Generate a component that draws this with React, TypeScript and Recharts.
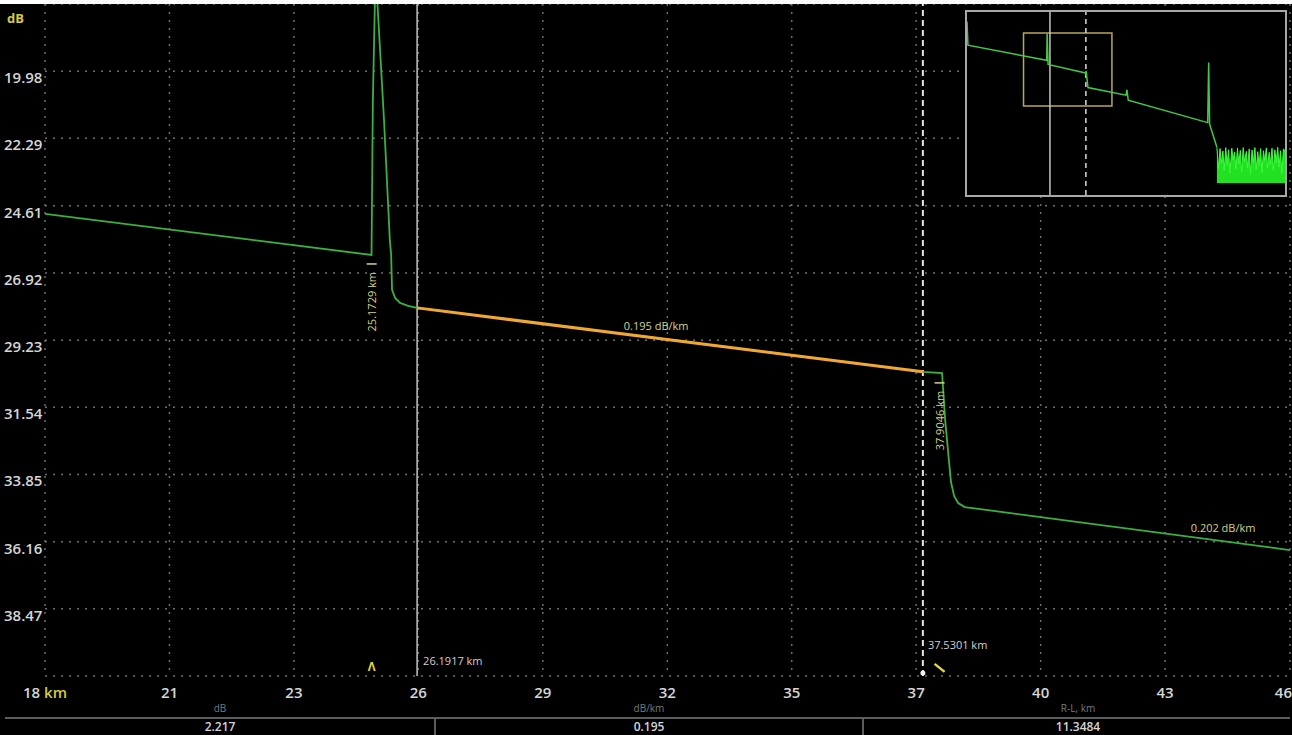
import {
  Area,
  CartesianGrid,
  ComposedChart,
  Line,
  ReferenceArea,
  ReferenceDot,
  ReferenceLine,
  XAxis,
  YAxis,
} from "recharts";

// main trace (km, dB)
const traceKm = [
  17.85, 25.17, 25.2, 25.26, 25.45, 25.58, 25.61, 25.63, 25.7, 25.81, 25.99,
  26.19, 37.53, 37.96, 38.03, 38.09, 38.16, 38.23, 38.32, 38.47, 45.76,
];
const traceDb = [
  24.89, 26.3, 21.0, 16.5, 21.66, 25.78, 26.3, 27.5, 27.78, 27.95, 28.05,
  28.12, 30.32, 30.36, 31.98, 32.98, 34.11, 34.59, 34.83, 34.97, 36.45,
];

// highlighted section between the two cursors
const sectionKm = [26.1917, 37.5301];
const sectionDb = [28.12, 30.32];

// overview trace in the inset
const insetKm = [
  0, 0.3, 25.17, 25.3, 25.6, 37.5, 37.6, 38.2, 50.2, 50.5, 50.9, 76.0, 76.3,
  76.6, 78.9,
];
const insetDb = [
  14.0, 21.5, 26.3, 17.7, 27.6, 30.3, 29.6, 34.9, 37.3, 35.6, 38.9, 46.0, 27.0,
  46.5, 53.8,
];
const noiseKm = [
  78.9, 79.4, 79.9, 80.3, 80.8, 81.2, 81.7, 82.1, 82.6, 83.0, 83.6, 84.0, 84.5,
  84.9, 85.4, 85.8, 86.3, 86.7, 87.2, 87.6, 88.2, 88.6, 89.1, 89.5, 90.0, 90.4,
  90.9, 91.3, 91.8, 92.2, 92.7, 93.1, 93.6, 94.0, 94.5, 94.9, 95.4, 95.8, 96.3,
  96.7, 97.2, 97.6, 98.1, 98.5, 99.0, 99.4, 99.9, 100.4,
];
const noiseDb = [
  53.8, 60.5, 54.2, 58.9, 55.0, 61.2, 53.9, 59.4, 54.6, 62.0, 54.1, 57.8, 55.3,
  60.7, 54.0, 59.1, 54.8, 61.5, 53.9, 58.3, 55.1, 60.2, 54.3, 62.3, 54.7, 58.6,
  53.9, 60.9, 55.2, 59.7, 54.2, 61.8, 54.9, 58.1, 54.0, 60.4, 55.4, 59.2, 54.1,
  61.1, 54.6, 58.7, 53.8, 60.0, 54.9, 62.1, 54.3, 55.0,
];

const xTickValues = [
  17.85, 20.64, 23.43, 26.22, 29.01, 31.8, 34.59, 37.38, 40.17, 42.96, 45.76,
];
const xTickLabels = ["18", "21", "23", "26", "29", "32", "35", "37", "40", "43", "46"];
const yTickValues = [
  17.67, 19.98, 22.29, 24.61, 26.92, 29.23, 31.54, 33.85, 36.16, 38.47, 40.78,
];
const yTickLabels = [
  "", "19.98", "22.29", "24.61", "26.92", "29.23", "31.54", "33.85", "36.16", "38.47", "",
];

// bottom readout
const readoutHeads = ["dB", "dB/km", "R-L, km"];
const readoutValues = ["2.217", "0.195", "11.3484"];

const traceData = traceKm.map((km, i) => ({ km, db: traceDb[i] }));
const sectionData = sectionKm.map((km, i) => ({ km, db: sectionDb[i] }));
const insetData = insetKm.map((km, i) => ({ km, db: insetDb[i] }));
const noiseData = noiseKm.map((km, i) => ({ km, db: noiseDb[i] }));

const FONT = "'Open Sans', 'DejaVu Sans', sans-serif";
const GREEN = "#3cb043";
const LABEL = "#d2d48a";

const XTick = ({ x, y, payload }: any) => {
  const i = xTickValues.indexOf(payload.value);
  const last = i === xTickValues.length - 1;
  return (
    <text
      x={last ? x + 2 : x}
      y={y + 16}
      textAnchor={last ? "end" : "middle"}
      dominantBaseline="central"
      fill="#d6d6d6"
      fontSize={15}
      fontWeight={600}
      fontFamily={FONT}
    >
      {xTickLabels[i]}
      {i === 0 ? <tspan fill="#d8cc3a"> km</tspan> : null}
    </text>
  );
};

const YTick = ({ y, payload }: any) => {
  const label = yTickLabels[yTickValues.indexOf(payload.value)];
  if (!label) return null;
  return (
    <text
      x={4}
      y={y + 6}
      dominantBaseline="central"
      fill="#d6d6d6"
      fontSize={15}
      fontWeight={600}
      fontFamily={FONT}
    >
      {label}
    </text>
  );
};

const eventMark = (text: string) => (p: any) => (
  <g>
    <line x1={p.cx - 5} y1={p.cy} x2={p.cx + 5} y2={p.cy} stroke={LABEL} strokeWidth={1.5} />
    <text
      x={p.cx + 4}
      y={p.cy + 8}
      transform={`rotate(-90 ${p.cx + 4} ${p.cy + 8})`}
      textAnchor="end"
      fill={LABEL}
      fontSize={11}
      fontFamily={FONT}
    >
      {text}
    </text>
  </g>
);

const textMark = (text: string, color: string, anchor: "start" | "middle", dx: number) => (p: any) => (
  <text
    x={p.cx + dx}
    y={p.cy}
    textAnchor={anchor}
    dominantBaseline="central"
    fill={color}
    fontSize={11}
    fontFamily={FONT}
  >
    {text}
  </text>
);

export default function App() {
  return (
    <div style={{ width: 1292, height: 735, background: "#fff", position: "relative", overflow: "hidden" }}>
      <style>{"body{margin:0}"}</style>
      <div style={{ position: "absolute", left: 0, top: 4, width: 1292, height: 731, background: "#000" }}>
        <ComposedChart width={1292} height={731} margin={{ top: 0, right: 2, bottom: 0, left: 0 }}>
          <CartesianGrid stroke="#6e6e6e" strokeWidth={1.5} strokeDasharray="2 6" />
          <XAxis
            dataKey="km"
            type="number"
            domain={[17.85, 45.76]}
            ticks={xTickValues}
            interval={0}
            height={59}
            tickSize={0}
            tickMargin={0}
            axisLine={false}
            tickLine={false}
            allowDataOverflow
            tick={<XTick />}
          />
          <YAxis
            type="number"
            reversed
            domain={[17.67, 40.78]}
            ticks={yTickValues}
            interval={0}
            width={45}
            axisLine={false}
            tickLine={false}
            allowDataOverflow
            tick={<YTick />}
          />
          <ReferenceLine x={26.1917} stroke="#c4c4c4" strokeWidth={1.5} />
          <ReferenceLine x={37.5301} stroke="#e6e6e6" strokeWidth={2} strokeDasharray="6 4" />
          <Line
            data={traceData}
            dataKey="db"
            type="linear"
            stroke={GREEN}
            strokeWidth={1.8}
            dot={false}
            activeDot={false}
            isAnimationActive={false}
          />
          <Line
            data={sectionData}
            dataKey="db"
            type="linear"
            stroke="#f0a830"
            strokeWidth={3}
            dot={false}
            activeDot={false}
            isAnimationActive={false}
          />
          <ReferenceDot x={25.1729} y={26.61} shape={eventMark("25.1729 km")} />
          <ReferenceDot x={37.9046} y={30.7} shape={eventMark("37.9046 km")} />
          <ReferenceDot x={31.55} y={28.71} shape={textMark("0.195 dB/km", LABEL, "middle", 0)} />
          <ReferenceDot x={44.26} y={35.66} shape={textMark("0.202 dB/km", LABEL, "middle", 0)} />
          <ReferenceDot x={26.1917} y={40.23} shape={textMark("26.1917 km", "#d0d0d0", "start", 6)} />
          <ReferenceDot x={37.5301} y={39.71} shape={textMark("37.5301 km", "#d0d0d0", "start", 5)} />
          <ReferenceDot
            x={25.1729}
            y={40.47}
            shape={(p: any) => (
              <text
                x={p.cx}
                y={p.cy}
                textAnchor="middle"
                dominantBaseline="central"
                fill="#e8d63a"
                fontSize={12}
                fontWeight={700}
                fontFamily={FONT}
              >
                Λ
              </text>
            )}
          />
          <ReferenceDot
            x={37.9046}
            y={40.5}
            shape={(p: any) => (
              <line
                x1={p.cx - 5}
                y1={p.cy - 4}
                x2={p.cx + 5}
                y2={p.cy + 4}
                stroke="#e8d63a"
                strokeWidth={2.5}
              />
            )}
          />
          <ReferenceDot x={37.5301} y={40.68} r={2.5} fill="#f0f0f0" stroke="none" />
        </ComposedChart>

        <div
          style={{
            position: "absolute",
            left: 7,
            top: 6,
            fontFamily: FONT,
            fontSize: 13,
            fontWeight: 700,
            color: "#d8cc3a",
            lineHeight: "16px",
          }}
        >
          dB
        </div>

        {/* overview inset */}
        <div
          style={{
            position: "absolute",
            left: 965,
            top: 6,
            width: 322,
            height: 187,
            border: "2px solid #a8a8a8",
            boxSizing: "border-box",
            background: "#000",
          }}
        >
          <ComposedChart width={318} height={183} margin={{ top: 0, right: 0, bottom: 0, left: 0 }}>
            <XAxis dataKey="km" type="number" domain={[0, 100.4]} hide allowDataOverflow />
            <YAxis type="number" reversed domain={[11, 68.9]} hide allowDataOverflow />
            <ReferenceArea
              x1={17.85}
              x2={45.76}
              y1={17.67}
              y2={40.78}
              fill="none"
              fillOpacity={0}
              stroke="#b8a85a"
              strokeWidth={1.5}
            />
            <ReferenceLine x={26.1917} stroke="#c4c4c4" strokeWidth={1.5} />
            <ReferenceLine x={37.5301} stroke="#d8d8d8" strokeWidth={1.5} strokeDasharray="5 4" />
            <Line
              data={insetData}
              dataKey="db"
              type="linear"
              stroke="#45c845"
              strokeWidth={1.5}
              dot={false}
              activeDot={false}
              isAnimationActive={false}
            />
            <Area
              data={noiseData}
              dataKey="db"
              type="linear"
              baseValue={65.1}
              stroke="#3cff3c"
              strokeWidth={1}
              fill="#22e022"
              fillOpacity={1}
              isAnimationActive={false}
            />
          </ComposedChart>
        </div>

        {/* readout table */}
        {readoutHeads.map((h, i) => (
          <div
            key={h}
            style={{
              position: "absolute",
              left: [220, 649, 1078][i] - 100,
              width: 200,
              top: 696,
              height: 16,
              lineHeight: "16px",
              textAlign: "center",
              fontFamily: FONT,
              fontSize: 10,
              color: "#7a7a7a",
            }}
          >
            {h}
          </div>
        ))}
        <div style={{ position: "absolute", left: 5, top: 713, width: 1285, height: 2, background: "#5c5c5c" }} />
        <div style={{ position: "absolute", left: 434, top: 713, width: 2, height: 18, background: "#5c5c5c" }} />
        <div style={{ position: "absolute", left: 862, top: 713, width: 2, height: 18, background: "#5c5c5c" }} />
        {readoutValues.map((v, i) => (
          <div
            key={v}
            style={{
              position: "absolute",
              left: [220, 649, 1078][i] - 100,
              width: 200,
              top: 715,
              height: 16,
              lineHeight: "16px",
              textAlign: "center",
              fontFamily: FONT,
              fontSize: 12,
              fontWeight: 600,
              color: "#d6d6d6",
            }}
          >
            {v}
          </div>
        ))}
      </div>
    </div>
  );
}
